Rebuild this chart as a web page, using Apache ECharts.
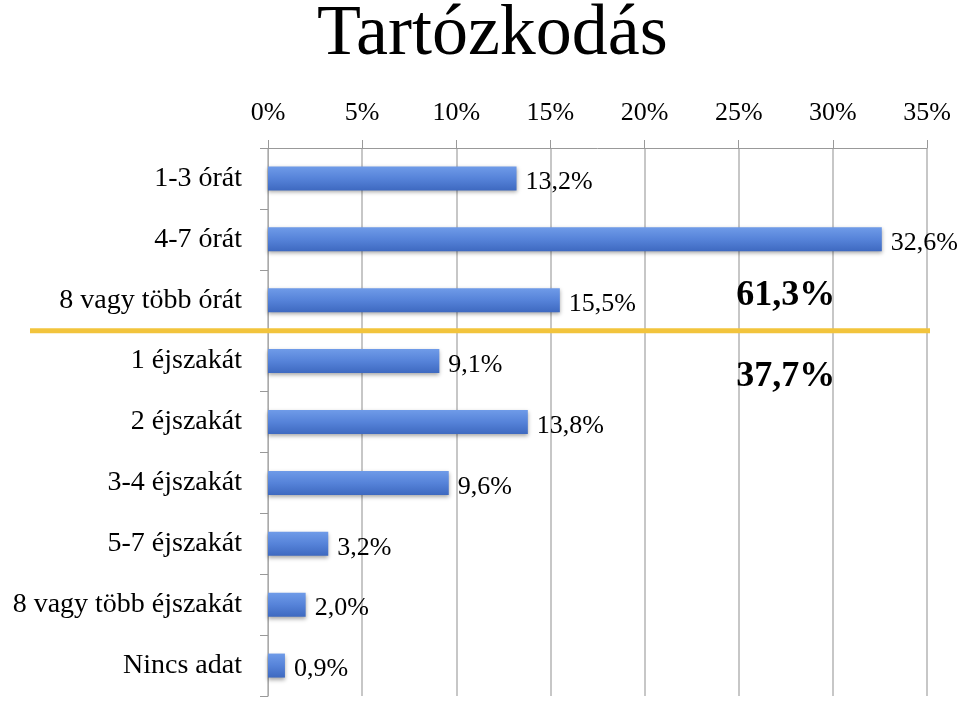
<!DOCTYPE html>
<html>
<head>
<meta charset="utf-8">
<script src="https://cdn.jsdelivr.net/npm/echarts@6/dist/echarts.min.js"></script>
<style>html,body{margin:0;padding:0;background:#fff;}#c{width:960px;height:701px;}</style>
</head>
<body>
<div id="c"></div>
<script>
const categories = ['1-3 órát', '4-7 órát', '8 vagy több órát', '1 éjszakát', '2 éjszakát', '3-4 éjszakát', '5-7 éjszakát', '8 vagy több éjszakát', 'Nincs adat'];
const values = [13.2, 32.6, 15.5, 9.1, 13.8, 9.6, 3.2, 2.0, 0.9];
const hourGroup = [0, 1, 2];
const nightGroup = [3, 4, 5, 6, 7];
const FONT = '"Liberation Serif", "DejaVu Serif", serif';

function fmt(v) { return v.toFixed(1).replace('.', ',') + '%'; }

const chart = echarts.init(document.getElementById('c'));
chart.setOption({
  animation: false,
  backgroundColor: '#fff',
  title: {
    text: 'Tartózkodás', left: 312, top: -6,
    textStyle: { fontFamily: FONT, fontSize: 72, fontWeight: 'normal', color: '#000' }
  },
  grid: { left: 268, right: 33, top: 148, bottom: 5 },
  xAxis: {
    type: 'value', position: 'top', min: 0, max: 35, interval: 5,
    axisLine: { show: true, lineStyle: { color: '#999', width: 1 } },
    axisTick: { show: true, length: 8, lineStyle: { color: '#999' } },
    axisLabel: { formatter: '{value}%', fontFamily: FONT, fontSize: 26, color: '#000', margin: 22 },
    splitLine: { show: true, lineStyle: { color: '#b5b5b5', width: 1.5 } }
  },
  yAxis: {
    type: 'category', data: categories, inverse: true,
    axisLine: { show: true, lineStyle: { color: '#aaa', width: 1 } },
    axisTick: { show: true, length: 8, lineStyle: { color: '#999' } },
    axisLabel: { fontFamily: FONT, fontSize: 28, color: '#000', margin: 26 }
  },
  series: [{
    type: 'bar', data: values, barWidth: 24,
    itemStyle: {
      color: new echarts.graphic.LinearGradient(0, 0, 0, 1, [
        { offset: 0, color: '#6f9be8' },
        { offset: 0.5, color: '#5683d9' },
        { offset: 1, color: '#3e69c0' }
      ]),
      shadowColor: 'rgba(0,0,0,0.35)', shadowBlur: 4, shadowOffsetY: 2
    },
    label: {
      show: true, position: 'right', distance: 9,
      formatter: p => fmt(p.value),
      fontFamily: FONT, fontSize: 26, color: '#000', offset: [0, 4]
    }
  }]
});

const sum = idx => idx.reduce((a, i) => a + values[i], 0);
const y2 = chart.convertToPixel({ yAxisIndex: 0 }, categories[2]);
const y3 = chart.convertToPixel({ yAxisIndex: 0 }, categories[3]);
const yLine = (y2 + y3) / 2;
const xAnn = chart.convertToPixel({ xAxisIndex: 0 }, 27.5);
chart.setOption({
  graphic: [
    { type: 'line', shape: { x1: 30, y1: yLine, x2: 930, y2: yLine },
      style: { stroke: '#f2c43c', lineWidth: 5 }, z: 10 },
    { type: 'text', x: xAnn, y: yLine - 35,
      style: { text: fmt(sum(hourGroup)), fontFamily: FONT, fontSize: 36, fontWeight: 'bold', fill: '#000', align: 'center', verticalAlign: 'middle' }, z: 10 },
    { type: 'text', x: xAnn, y: yLine + 46,
      style: { text: fmt(sum(nightGroup)), fontFamily: FONT, fontSize: 36, fontWeight: 'bold', fill: '#000', align: 'center', verticalAlign: 'middle' }, z: 10 }
  ]
});
</script>
</body>
</html>
